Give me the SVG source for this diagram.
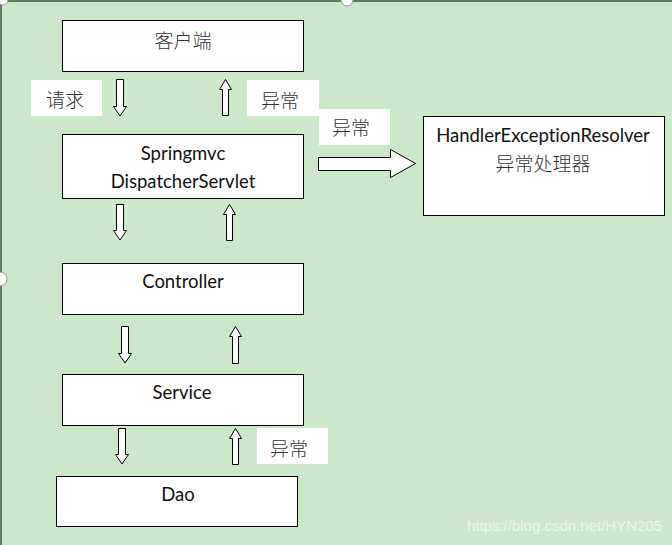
<svg xmlns="http://www.w3.org/2000/svg" width="672" height="545" viewBox="0 0 672 545">
<style>
.node rect{fill:#fff;stroke:#000;stroke-width:1}
.lab rect{fill:#fff;stroke:none}
.en{font-family:Lato,"Open Sans","Noto Sans",sans-serif;font-size:18.5px;fill:#111;text-anchor:middle;font-variant-ligatures:none}
.zh{font-family:"Noto Sans CJK SC",sans-serif;font-size:19px;font-weight:300;fill:#333;text-anchor:middle}
.arr{fill:#fff;stroke:#000;stroke-width:1}
.handle{fill:#fff;stroke:#999;stroke-width:1}
</style>
<rect x="0" y="0" width="672" height="545" fill="#cde7ca"/>
<line x1="0" y1="1" x2="672" y2="1" stroke="#5f7a5f" stroke-width="2"/>
<line x1="1" y1="0" x2="1" y2="545" stroke="#5f7a5f" stroke-width="2"/>

<g id="client" class="node"><rect x="62.5" y="20.5" width="241" height="51"/><text class="zh" x="183" y="48">客户端</text></g>
<g id="dispatcher" class="node"><rect x="62.5" y="134.5" width="241" height="64"/><text class="en" x="183" y="160">Springmvc</text><text class="en" x="183" y="188">DispatcherServlet</text></g>
<g id="resolver" class="node"><rect x="423.5" y="116.5" width="241" height="99"/><text class="en" x="543" y="142">HandlerExceptionResolver</text><text class="zh" x="543" y="171">异常处理器</text></g>
<g id="controller" class="node"><rect x="62.5" y="263.5" width="241" height="51"/><text class="en" x="183" y="288">Controller</text></g>
<g id="service" class="node"><rect x="62.5" y="374.5" width="241" height="51"/><text class="en" x="182" y="399">Service</text></g>
<g id="dao" class="node"><rect x="56.5" y="476.5" width="241" height="50"/><text class="en" x="178" y="501">Dao</text></g>

<g id="label-request" class="lab"><rect x="31" y="80" width="71" height="36"/><text class="zh" x="65" y="107">请求</text></g>
<g id="label-ex1" class="lab"><rect x="247" y="80" width="72" height="36"/><text class="zh" x="280" y="108">异常</text></g>
<g id="label-ex2" class="lab"><rect x="319" y="109" width="71" height="36"/><text class="zh" x="351" y="135">异常</text></g>
<g id="label-ex3" class="lab"><rect x="257" y="428" width="71" height="36"/><text class="zh" x="289" y="456">异常</text></g>

<g id="connectors">
<polygon class="arr" points="116.5,79.5 123.5,79.5 123.5,106.5 126.5,106.5 120,116 113.5,106.5 116.5,106.5"/>
<polygon class="arr" points="222.5,115.5 228.5,115.5 228.5,89.5 231.5,89.5 225.5,79.5 219.5,89.5 222.5,89.5"/>
<polygon class="arr" points="116.5,204.5 123.5,204.5 123.5,230.5 126.5,230.5 120,240 113.5,230.5 116.5,230.5"/>
<polygon class="arr" points="226.5,240.5 232.5,240.5 232.5,214.5 235.5,214.5 229.5,204.5 223.5,214.5 226.5,214.5"/>
<polygon class="arr" points="121.5,326.5 128.5,326.5 128.5,353.5 131.5,353.5 125,363 118.5,353.5 121.5,353.5"/>
<polygon class="arr" points="232.5,363.5 238.5,363.5 238.5,336.5 241.5,336.5 235.5,326.5 229.5,336.5 232.5,336.5"/>
<polygon class="arr" points="118.5,428.5 125.5,428.5 125.5,454.5 128.5,454.5 122,464 115.5,454.5 118.5,454.5"/>
<polygon class="arr" points="232.5,464.5 238.5,464.5 238.5,438.5 241.5,438.5 235.5,428.5 229.5,438.5 232.5,438.5"/>
<polygon class="arr" points="318.5,157.5 390.5,157.5 390.5,149.5 415.5,163.5 390.5,177.5 390.5,170.5 318.5,170.5"/>
</g>

<circle class="handle" cx="3" cy="0" r="5"/>
<circle class="handle" cx="347" cy="0" r="6"/>
<circle class="handle" cx="0" cy="279" r="7"/>
<text x="662" y="531" font-family="'Liberation Sans',Arial,sans-serif" font-size="15" fill="#fff" fill-opacity="0.6" text-anchor="end">https://blog.csdn.net/HYN205</text>
</svg>
